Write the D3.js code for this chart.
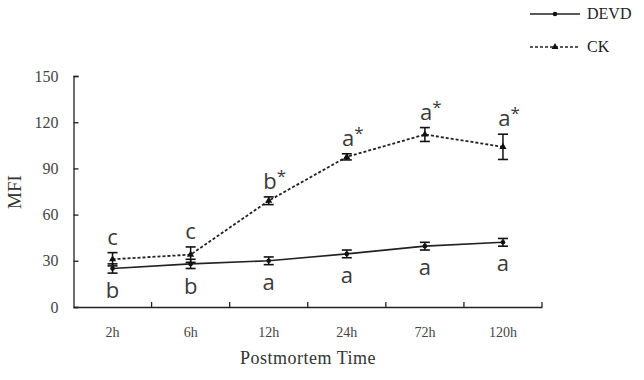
<!DOCTYPE html>
<html><head><meta charset="utf-8">
<script src="https://cdn.jsdelivr.net/npm/d3@7"></script>
<style>body{margin:0;background:#fff}svg{display:block}</style>
</head><body>
<svg id="c" width="644" height="380"></svg>
<script>
const categories = ["2h","6h","12h","24h","72h","120h"];
const devd = [25, 28, 30, 34.5, 39.5, 42];
const devdErr = [3, 3, 2.5, 2.5, 2.5, 2.5];
const ck = [31, 34, 69, 97.5, 112, 104];
const ckErr = [4.3, 5, 2.5, 2, 4.5, 8.2];
const ckLetters = ["c","c","b*","a*","a*","a*"];
const devdLetters = ["b","b","a","a","a","a"];
const yTicks = [0,30,60,90,120,150];

const svg = d3.select("#c");
const L = 73.5, R = 542, T = 76, B = 307;
const x = d3.scaleBand().domain(categories).range([L, R]);
const y = d3.scaleLinear().domain([0,150]).range([B, T]);
const cx = d => x(d) + x.bandwidth()/2;

// axes
const ya = svg.append("g").attr("transform",`translate(${L},0)`)
  .call(d3.axisLeft(y).tickValues(yTicks).tickSizeInner(-5).tickSizeOuter(-5).tickPadding(15));
ya.select(".domain").attr("stroke","#222").attr("stroke-width",1.3);
ya.selectAll(".tick line").attr("stroke","#222").attr("stroke-width",1.3);
ya.selectAll("text").attr("font-family","Liberation Serif, Times New Roman, serif").attr("font-size",16).attr("fill","#444");

const xa = svg.append("g").attr("transform",`translate(0,${B})`)
  .call(d3.axisBottom(x).tickSize(0).tickPadding(20));
xa.select(".domain").attr("stroke","#222").attr("stroke-width",1.3);
xa.selectAll("text").attr("font-family","Liberation Serif, Times New Roman, serif").attr("font-size",14).attr("fill","#444");
// boundary ticks (inward)
const bounds = categories.map(c => x(c) + x.bandwidth());
svg.append("g").selectAll("line").data(bounds).join("line")
  .attr("x1",d=>d).attr("x2",d=>d).attr("y1",B).attr("y2",B-5)
  .attr("stroke","#222").attr("stroke-width",1.3);

// axis titles
svg.append("text").attr("x",308).attr("y",364).attr("text-anchor","middle")
  .attr("font-family","Liberation Serif, Times New Roman, serif").attr("font-size",18).attr("fill","#333")
  .attr("letter-spacing",0.5).text("Postmortem Time");
svg.append("text").attr("transform","translate(21,192) rotate(-90)").attr("text-anchor","middle")
  .attr("font-family","Liberation Serif, Times New Roman, serif").attr("font-size",19).attr("fill","#333")
  .text("MFI");

function series(vals, errs, dashed, marker) {
  const g = svg.append("g");
  const line = d3.line().x((d,i)=>cx(categories[i])).y(d=>y(d));
  g.append("path").datum(vals).attr("d",line).attr("fill","none").attr("stroke","#222")
    .attr("stroke-width",dashed?1.8:1.6).attr("stroke-dasharray",dashed?"3,2":null);
  vals.forEach((v,i)=>{
    const X = cx(categories[i]);
    const e = errs[i];
    g.append("line").attr("x1",X).attr("x2",X).attr("y1",y(v+e)).attr("y2",y(v-e)).attr("stroke","#111").attr("stroke-width",1.5);
    [v+e, v-e].forEach(t=>g.append("line").attr("x1",X-5).attr("x2",X+5).attr("y1",y(t)).attr("y2",y(t)).attr("stroke","#111").attr("stroke-width",1.6));
    if (marker==="tri") g.append("path").attr("d",d3.symbol(d3.symbolTriangle,22)()).attr("transform",`translate(${X},${y(v)})`).attr("fill","#111");
    else g.append("circle").attr("cx",X).attr("cy",y(v)).attr("r",2.3).attr("fill","#111");
  });
}
series(devd, devdErr, false, "dot");
series(ck, ckErr, true, "tri");

// significance letters
const lf = "Open Sans, Noto Sans, sans-serif";
ck.forEach((v,i)=>{
  const X = cx(categories[i]);
  const t = svg.append("text").attr("x",X+ (ckLetters[i].length>1?6:0)).attr("y",y(v+ckErr[i])-8)
    .attr("text-anchor","middle").attr("font-family",lf).attr("font-size",22).attr("fill","#3a3a3a");
  t.append("tspan").text(ckLetters[i][0]);
  if (ckLetters[i].length>1) t.append("tspan").attr("dy",-7).attr("font-size",17).text("*");
});
devd.forEach((v,i)=>{
  svg.append("text").attr("x",cx(categories[i])).attr("y",y(v-devdErr[i])+25)
    .attr("text-anchor","middle").attr("font-family",lf).attr("font-size",22).attr("fill","#3a3a3a").text(devdLetters[i]);
});

// legend
const lg = svg.append("g");
const legend = [{n:"DEVD",dash:null,m:"dot",y:14},{n:"CK",dash:"3,2",m:"tri",y:47}];
legend.forEach(d=>{
  lg.append("line").attr("x1",530).attr("x2",580).attr("y1",d.y).attr("y2",d.y).attr("stroke","#222").attr("stroke-width",1.4).attr("stroke-dasharray",d.dash);
  if (d.m==="dot") lg.append("circle").attr("cx",555).attr("cy",d.y).attr("r",2.3).attr("fill","#111");
  else lg.append("path").attr("d",d3.symbol(d3.symbolTriangle,20)()).attr("transform",`translate(555,${d.y})`).attr("fill","#111");
  lg.append("text").attr("x",587).attr("y",d.y+5).attr("font-family","Liberation Serif, Times New Roman, serif").attr("font-size",16).attr("fill","#222").text(d.n);
});
</script>
</body></html>
